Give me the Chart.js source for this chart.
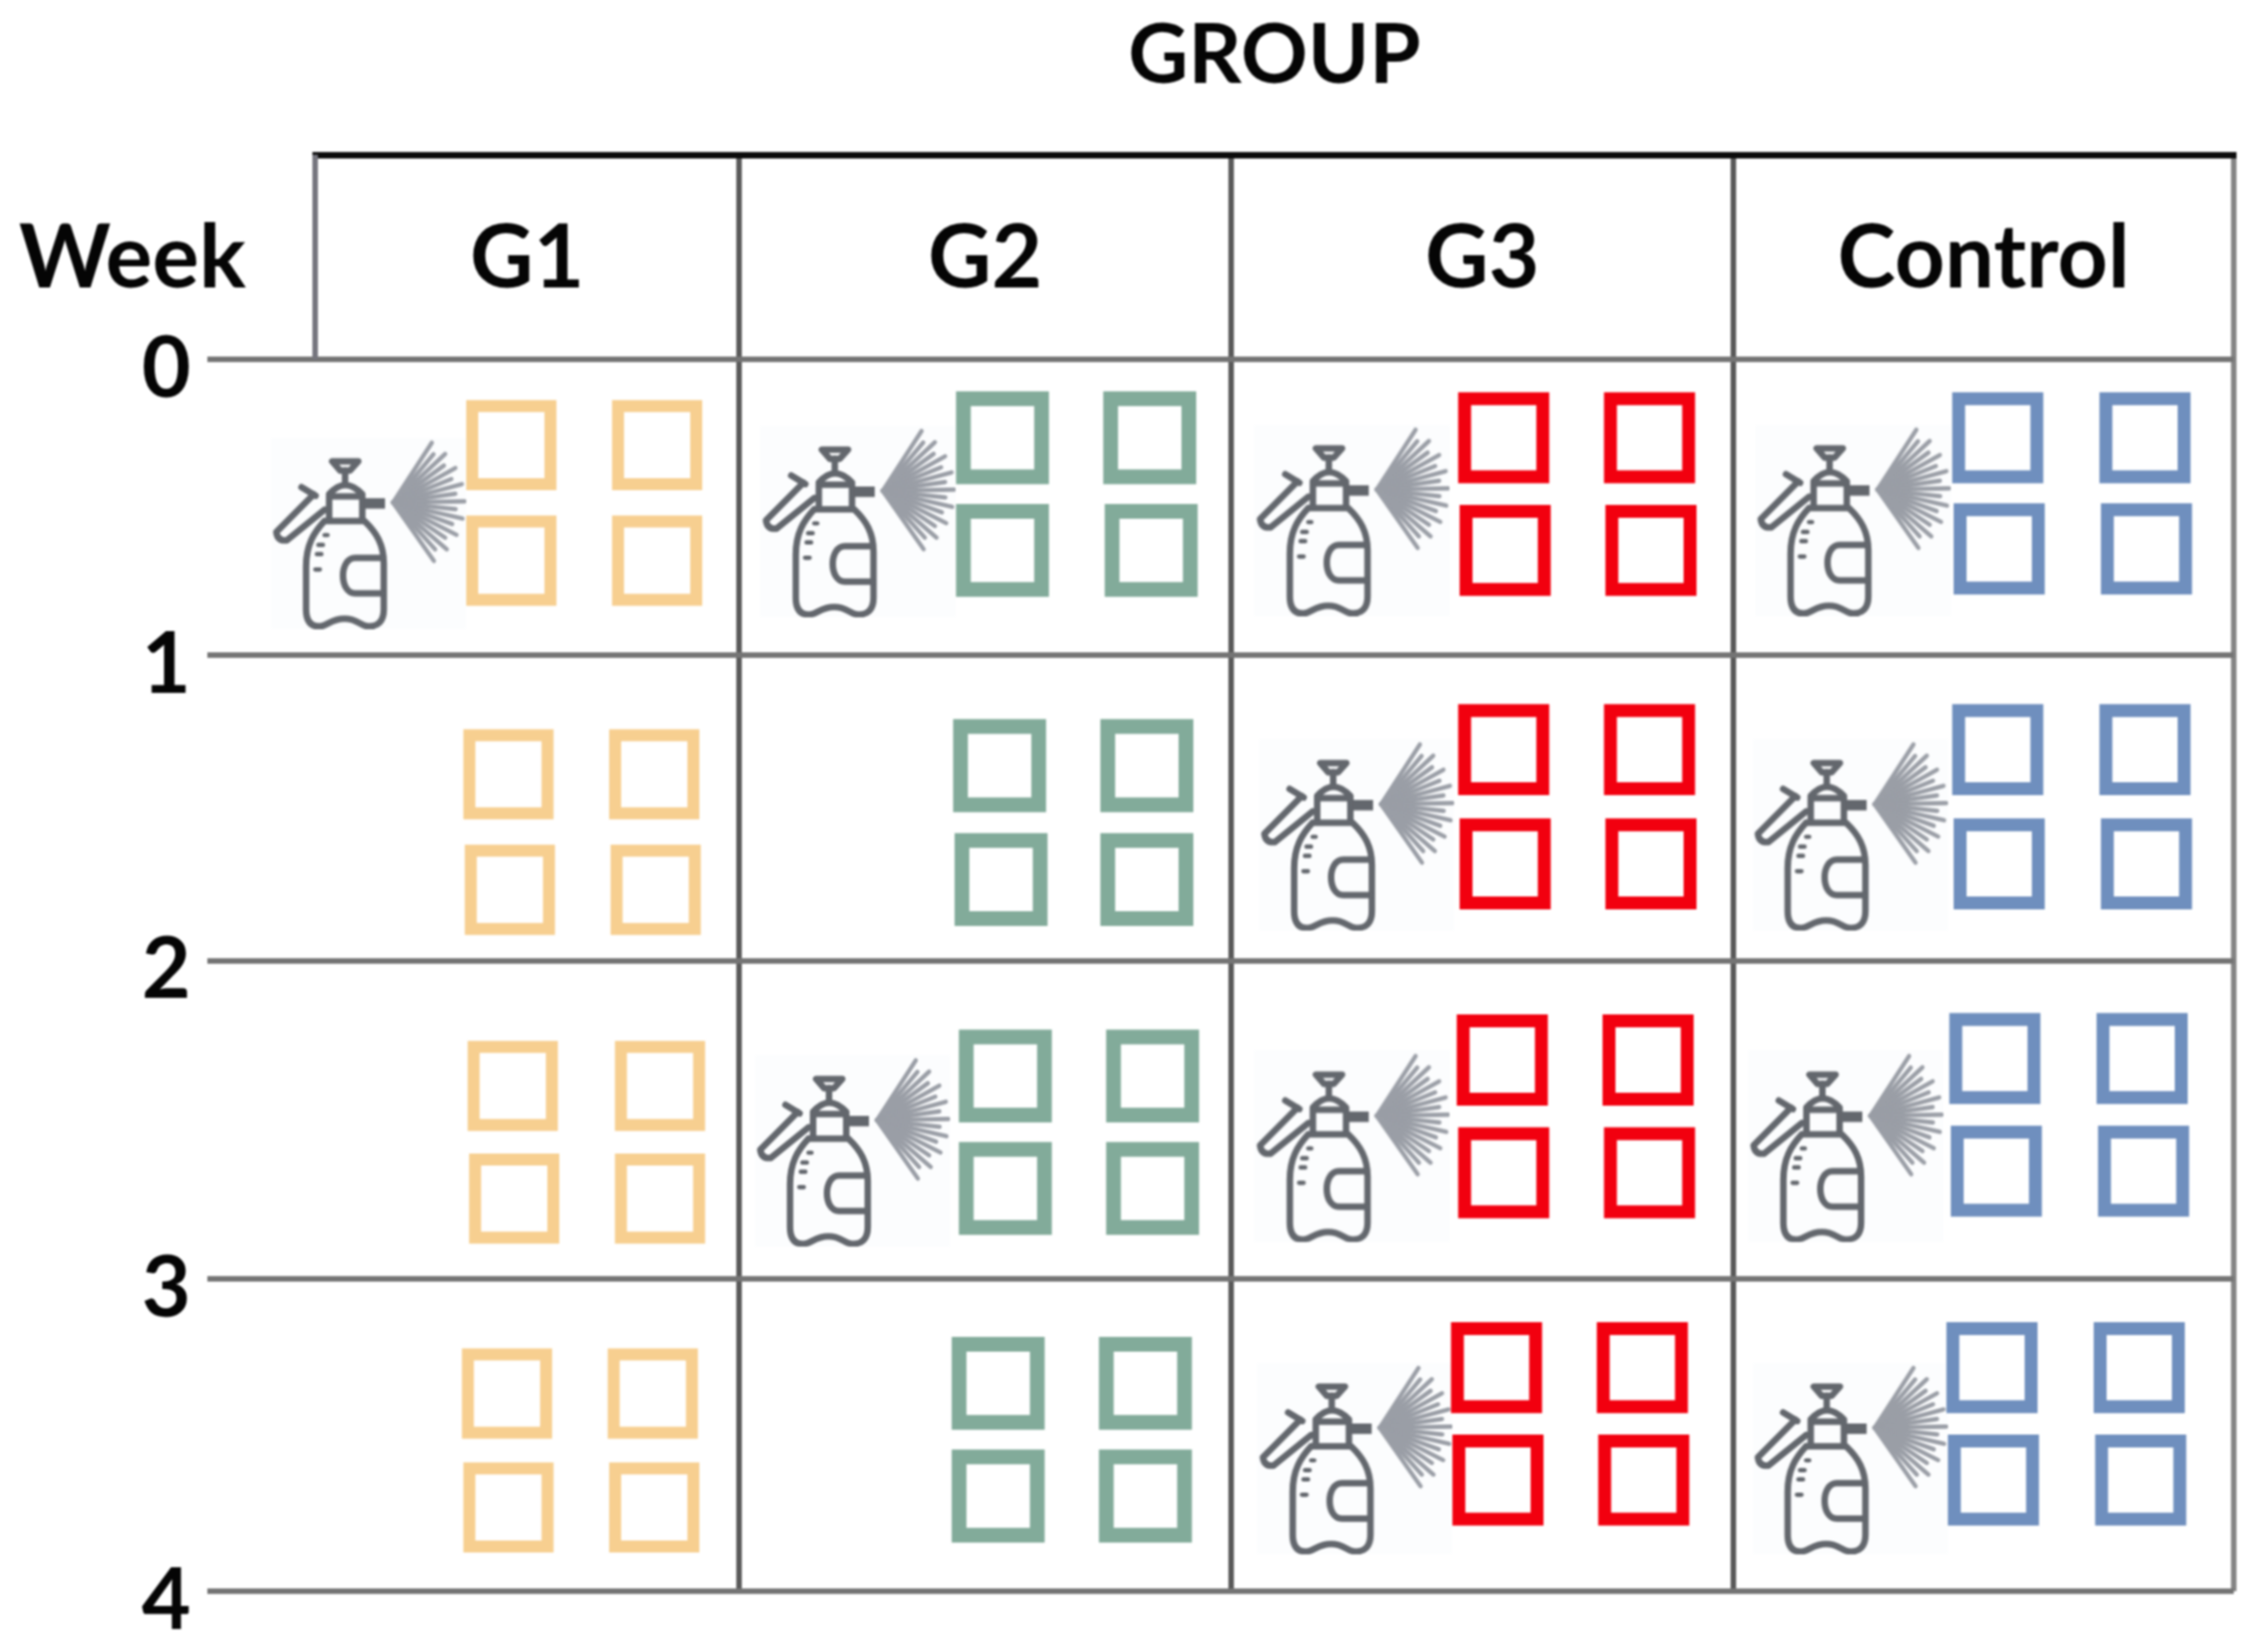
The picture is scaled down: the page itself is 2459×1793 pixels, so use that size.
<!DOCTYPE html>
<html>
<head>
<meta charset="utf-8">
<title>Spray schedule per group</title>
<script src="https://cdn.jsdelivr.net/npm/chart.js@4"></script>
<style>
  html, body { margin: 0; padding: 0; background: #fff; }
  canvas { display: block; filter: blur(1.1px); }
</style>
</head>
<body>
<canvas id="schedule-chart" width="2459" height="1793"></canvas>
<script>
const titleText = 'GROUP';
const weekTitle = 'Week';
const groups = ['G1', 'G2', 'G3', 'Control'];
const weeks = ['0', '1', '2', '3', '4'];

// where the grid lines sit, the picture is not evenly spaced
const columnEdges = [0, 0.884, 1.910, 2.957, 4];
const weekLines = [0, 0.960, 1.952, 2.987, 4];
const headerTop = -0.665;

// boxes, four per week per group
const g1BoxX = [0.409, 0.713, 0.409, 0.713, 0.403, 0.707, 0.406, 0.710, 0.412, 0.719, 0.415, 0.719, 0.400, 0.704, 0.403, 0.707];
const g1BoxY = [0.278, 0.278, 0.653, 0.653, 1.347, 1.347, 1.722, 1.722, 2.359, 2.359, 2.725, 2.725, 3.358, 3.358, 3.728, 3.728];
const g2BoxX = [1.433, 1.740, 1.433, 1.743, 1.427, 1.734, 1.430, 1.734, 1.439, 1.746, 1.439, 1.746, 1.424, 1.731, 1.424, 1.731];
const g2BoxY = [0.254, 0.254, 0.620, 0.620, 1.319, 1.319, 1.689, 1.689, 2.327, 2.327, 2.692, 2.692, 3.325, 3.325, 3.691, 3.691];
const g3BoxX = [2.478, 2.782, 2.481, 2.785, 2.478, 2.782, 2.481, 2.785, 2.475, 2.779, 2.478, 2.782, 2.463, 2.767, 2.466, 2.770];
const g3BoxY = [0.254, 0.254, 0.620, 0.620, 1.267, 1.267, 1.638, 1.638, 2.275, 2.275, 2.641, 2.641, 3.274, 3.274, 3.639, 3.639];
const controlBoxX = [3.508, 3.815, 3.511, 3.818, 3.508, 3.815, 3.511, 3.818, 3.502, 3.809, 3.505, 3.812, 3.496, 3.803, 3.499, 3.806];
const controlBoxY = [0.254, 0.254, 0.615, 0.615, 1.267, 1.267, 1.638, 1.638, 2.270, 2.270, 2.636, 2.636, 3.274, 3.274, 3.639, 3.639];

// sprayed weeks
const sprayX = [0.111, 1.132, 1.120, 2.162, 2.171, 2.162, 2.168, 3.206, 3.200, 3.191, 3.200];
const sprayY = [0.564, 0.526, 2.570, 0.522, 1.544, 2.556, 3.569, 0.522, 1.544, 2.556, 3.569];

function toPoints(xs, ys) {
  return xs.map((x, i) => ({ x: x, y: ys[i] }));
}

function boxDataset(label, xs, ys, color, borderWidth) {
  return {
    label: label,
    data: toPoints(xs, ys),
    pointStyle: 'rect',
    pointRadius: 60,
    pointBorderWidth: borderWidth,
    pointBackgroundColor: 'rgba(0,0,0,0)',
    pointBorderColor: color,
    clip: false,
    order: 1,
  };
}

// the sprayer is drawn once on a small canvas and used as point style
function makeSprayerIcon() {
  const icon = document.createElement('canvas');
  icon.width = 212;
  icon.height = 208;
  const c = icon.getContext('2d');
  c.fillStyle = '#fcfdfe';
  c.fillRect(0, 0, icon.width, icon.height);
  c.scale(1 / 3, 1 / 3);
  c.translate(-40, -160);
  c.lineCap = 'round';
  c.lineJoin = 'round';

  // spray fan
  c.strokeStyle = '#9a9ea6';
  c.lineWidth = 14;
  for (let i = 0; i < 17; i++) {
    const a = ((-57 + i * 7) * Math.PI) / 180;
    const r = i % 2 ? 205 : 232;
    c.beginPath();
    c.moveTo(438, 372);
    c.lineTo(438 + r * Math.cos(a), 372 + r * Math.sin(a));
    c.stroke();
  }

  c.strokeStyle = '#63676d';
  c.lineWidth = 21;
  // trigger on top
  c.beginPath();
  c.moveTo(240, 238);
  c.lineTo(325, 238);
  c.lineTo(298, 268);
  c.lineTo(266, 268);
  c.closePath();
  c.stroke();
  c.beginPath();
  c.moveTo(282, 268);
  c.lineTo(282, 305);
  c.stroke();
  // head
  c.beginPath();
  c.moveTo(230, 430);
  c.lineTo(230, 345);
  c.quadraticCurveTo(282, 285, 338, 345);
  c.lineTo(338, 430);
  c.moveTo(232, 352);
  c.lineTo(336, 352);
  c.stroke();
  // nozzle
  c.lineWidth = 34;
  c.lineCap = 'butt';
  c.beginPath();
  c.moveTo(345, 375);
  c.lineTo(412, 375);
  c.stroke();
  c.lineCap = 'round';
  c.lineWidth = 21;
  // pump handle
  c.beginPath();
  c.moveTo(180, 345);
  c.lineTo(58, 468);
  c.quadraticCurveTo(62, 498, 92, 495);
  c.lineTo(216, 395);
  c.moveTo(140, 322);
  c.lineTo(186, 350);
  c.stroke();
  // bottle
  c.beginPath();
  c.moveTo(215, 432);
  c.lineTo(345, 432);
  c.bezierCurveTo(385, 470, 408, 510, 408, 570);
  c.lineTo(408, 720);
  c.bezierCurveTo(408, 760, 388, 775, 360, 775);
  c.bezierCurveTo(330, 775, 325, 750, 280, 750);
  c.bezierCurveTo(235, 750, 225, 775, 198, 775);
  c.bezierCurveTo(172, 775, 155, 760, 155, 720);
  c.lineTo(155, 580);
  c.bezierCurveTo(155, 510, 180, 470, 215, 432);
  c.stroke();
  // label
  c.beginPath();
  c.moveTo(405, 552);
  c.lineTo(315, 552);
  c.bezierCurveTo(262, 552, 262, 668, 315, 668);
  c.lineTo(405, 668);
  c.stroke();
  // scale marks
  c.lineWidth = 14;
  c.beginPath();
  c.moveTo(215, 478);
  c.lineTo(225, 478);
  c.moveTo(195, 510);
  c.lineTo(210, 510);
  c.moveTo(190, 540);
  c.lineTo(205, 540);
  c.moveTo(185, 590);
  c.lineTo(200, 590);
  c.stroke();
  return icon;
}

// header row labels inside the plot, positioned with the scales
const headerLabelsPlugin = {
  id: 'headerLabels',
  afterDraw(chart) {
    const { ctx, scales } = chart;
    const headerY = scales.y.getPixelForValue(-0.325);
    ctx.save();
    ctx.font = 'bold 95px Lato';
    ctx.fillStyle = '#050505';
    ctx.textAlign = 'center';
    ctx.textBaseline = 'middle';
    groups.forEach((name, i) => {
      const center = (columnEdges[i] + columnEdges[i + 1]) / 2;
      ctx.fillText(name, scales.x.getPixelForValue(center), headerY);
    });
    ctx.fillText(weekTitle, scales.x.getPixelForValue(-0.381), headerY);
    ctx.restore();
  },
};

const chartInstance = new Chart(document.getElementById('schedule-chart').getContext('2d'), {
  type: 'scatter',
  data: {
    datasets: [
      boxDataset(groups[0], g1BoxX, g1BoxY, '#f7cf90', 13),
      boxDataset(groups[1], g2BoxX, g2BoxY, '#82ab9a', 16),
      boxDataset(groups[2], g3BoxX, g3BoxY, '#f2000f', 14),
      boxDataset(groups[3], controlBoxX, controlBoxY, '#6f8fbe', 14),
      {
        label: 'Sprayed',
        data: toPoints(sprayX, sprayY),
        pointStyle: makeSprayerIcon(),
        clip: false,
        order: 2,
      },
      {
        // left edge of the header cell, the body has no such line
        label: weekTitle,
        type: 'line',
        data: [{ x: columnEdges[0], y: headerTop }, { x: columnEdges[0], y: weekLines[0] }],
        borderColor: '#75757d',
        borderWidth: 6,
        pointRadius: 0,
        clip: false,
        order: 3,
      },
    ],
  },
  options: {
    responsive: false,
    animation: false,
    // big point radius must not push the plot area in
    layout: { autoPadding: false, padding: { top: 0, left: 0, right: 35, bottom: 66 } },
    scales: {
      x: {
        type: 'linear',
        position: 'top',
        min: 0,
        max: 4,
        afterBuildTicks(axis) {
          axis.ticks = columnEdges.map((value) => ({ value: value }));
        },
        afterFit(axis) {
          axis.height = 0;
        },
        ticks: { display: false },
        border: { color: '#0c0c0c', width: 7 },
        grid: {
          drawTicks: false,
          lineWidth: 6,
          color: (c) => (c.index === 0 ? 'rgba(0,0,0,0)' : c.index === 4 ? '#858585' : '#5a5a5a'),
        },
      },
      y: {
        type: 'linear',
        reverse: true,
        min: headerTop,
        max: 4,
        afterBuildTicks(axis) {
          axis.ticks = weekLines.map((value) => ({ value: value }));
        },
        afterFit(axis) {
          axis.width = 342;
          // tick label overhang would add to the bottom padding
          axis.paddingTop = 0;
          axis.paddingBottom = 0;
        },
        ticks: {
          color: '#050505',
          font: { family: 'Lato', weight: 'bold', size: 92 },
          padding: 18,
          labelOffset: 11,
          callback: (value, index) => weeks[index],
        },
        border: { display: false },
        grid: {
          lineWidth: 6,
          color: '#747474',
          tickLength: 117,
        },
      },
    },
    plugins: {
      legend: { display: false },
      tooltip: { enabled: false },
      title: {
        display: true,
        fullSize: false,
        text: titleText,
        color: '#050505',
        font: { family: 'Lato', weight: 'bold', size: 90, lineHeight: 1 },
        padding: { top: 16, bottom: 62 },
      },
    },
  },
  plugins: [headerLabelsPlugin],
});
</script>
</body>
</html>
